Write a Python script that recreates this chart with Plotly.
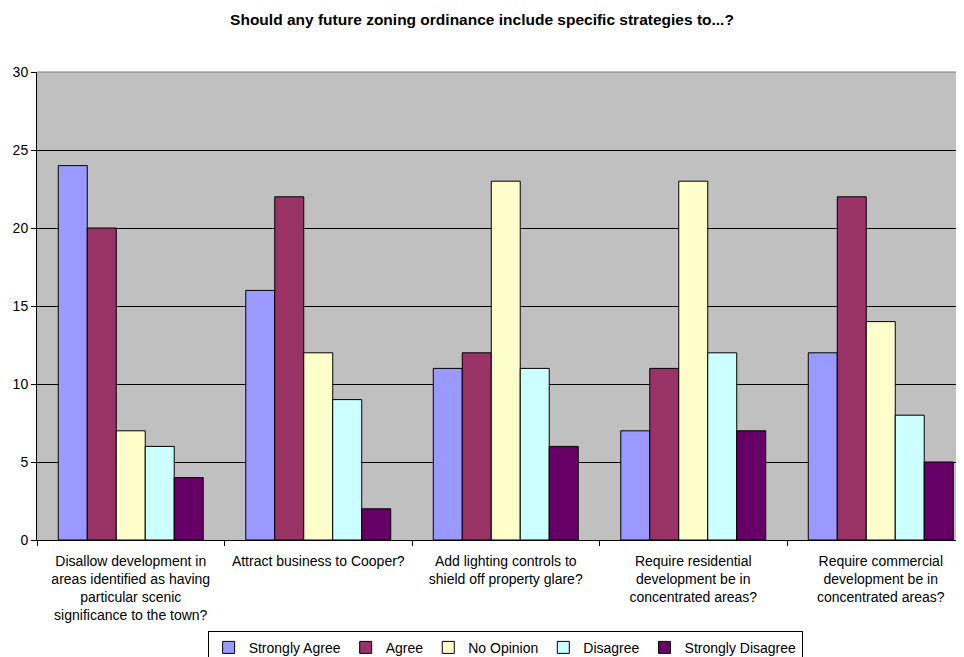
import plotly.graph_objects as go

categories = [
    "Disallow development in<br>areas identified as having<br>particular scenic<br>significance to the town?",
    "Attract business to Cooper?",
    "Add lighting controls to<br>shield off property glare?",
    "Require residential<br>development be in<br>concentrated areas?",
    "Require commercial<br>development be in<br>concentrated areas?",
]
series_names = ["Strongly Agree", "Agree", "No Opinion", "Disagree", "Strongly Disagree"]
strongly_agree = [24, 16, 11, 7, 12]
agree = [20, 22, 12, 11, 22]
no_opinion = [7, 12, 23, 23, 14]
disagree = [6, 9, 11, 12, 8]
strongly_disagree = [4, 2, 6, 7, 5]
y_ticks = [0, 5, 10, 15, 20, 25, 30]

series_values = [strongly_agree, agree, no_opinion, disagree, strongly_disagree]
colors = ["#9999FF", "#993366", "#FFFFCC", "#CCFFFF", "#660066"]

FONT = "Arial, Liberation Sans, sans-serif"

# page body has an 8px margin, so the figure is sized to fill the rest of the window
W, H = 956, 649

fig = go.Figure()
for name, vals, col in zip(series_names, series_values, colors):
    fig.add_trace(go.Bar(
        name=name, x=categories, y=vals,
        marker=dict(color=col, line=dict(color="black", width=1)),
    ))

fig.update_layout(
    width=W, height=H,
    margin=dict(l=29, r=0, t=64, b=117, autoexpand=False),
    paper_bgcolor="white", plot_bgcolor="#C0C0C0",
    barmode="group", bargap=0.227, bargroupgap=0,
    font=dict(family=FONT, size=14, color="black"),
    title=dict(text="<b>Should any future zoning ordinance include specific strategies to...?</b>",
               x=(482 - 8) / W, xanchor="center", y=1 - 12 / H, yanchor="middle", automargin=False,
               font=dict(family=FONT, size=15.5, color="black")),
    showlegend=True,
    legend=dict(orientation="h", x=0.505, xanchor="center", y=-0.194, yanchor="top",
                bordercolor="black", borderwidth=1, bgcolor="white",
                font=dict(family=FONT, size=14, color="black"),
                itemwidth=30, tracegroupgap=0),
    xaxis=dict(range=[-0.5, 4.444], showline=True, linecolor="black", linewidth=1,
               ticks="outside", tickson="boundaries", ticklen=5, tickcolor="black",
               ticklabelstandoff=8, automargin=False,
               showgrid=False, tickfont=dict(family=FONT, size=14, color="black")),
    yaxis=dict(range=[0, 30], tickvals=y_ticks, showline=True, linecolor="black", linewidth=1,
               ticks="outside", ticklen=5, tickcolor="black", automargin=False,
               showgrid=True, gridcolor="black", gridwidth=1, zeroline=False,
               tickfont=dict(family=FONT, size=14, color="black")),
    shapes=[dict(type="line", xref="paper", yref="paper", x0=0, x1=1, y0=1, y1=1,
                 line=dict(color="#808080", width=1))],
)

fig.write_html("out.html")
